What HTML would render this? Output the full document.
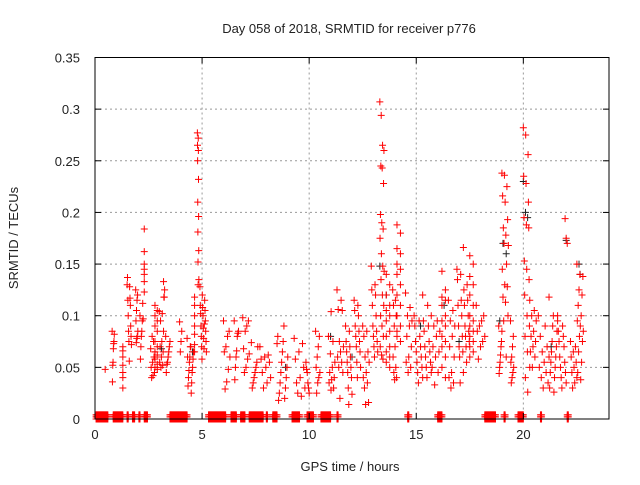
<!DOCTYPE html>
<html><head><meta charset="utf-8">
<style>
html,body{margin:0;padding:0;background:#fff;}
svg text{font-family:"Liberation Sans",sans-serif;font-size:13px;fill:#222;}
</style></head>
<body>
<svg id="chart" width="640" height="480" viewBox="0 0 640 480" xmlns="http://www.w3.org/2000/svg">
<rect width="640" height="480" fill="#fff"/>
<text x="349" y="33" text-anchor="middle">Day 058 of 2018, SRMTID for receiver p776</text>
<text transform="translate(18,238) rotate(-90)" text-anchor="middle">SRMTID / TECUs</text>
<text x="350" y="471" text-anchor="middle">GPS time / hours</text>
<g id="grid"></g>
<g id="marks"></g>
<rect x="95" y="57.5" width="514" height="361.5" fill="none" stroke="#000" stroke-width="1"/>
<g id="ticks"></g>
</svg>
<script>
const xTicks=[0,5,10,15,20];
const xTickLabels=["0","5","10","15","20"];
const yTicks=[0,0.05,0.1,0.15,0.2,0.25,0.3,0.35];
const yTickLabels=["0","0.05","0.1","0.15","0.2","0.25","0.3","0.35"];
// red clusters: [startHour, endHour]
const redClusterSpans=[[0.45,0.5],[0.8,0.9],[1.3,1.4],[1.5,1.7],[1.9,2.0],[2.1,2.25],[2.3,2.35],[2.6,2.8],[2.8,3.0],[3.0,3.2],[3.2,3.25],[3.3,3.5],[3.95,4.05],[4.3,4.6],[4.65,4.75],[4.78,4.85],[4.9,5.2],[6.0,6.3],[6.5,6.7],[6.9,7.2],[7.3,7.6],[7.7,8.2],[8.5,9.0],[9.3,9.8],[9.85,10.0],[10.3,10.5],[10.9,11.2],[11.0,11.05],[11.3,11.6],[11.7,12.0],[12.1,12.4],[12.5,12.8],[12.9,13.2],[13.3,13.5],[13.6,13.9],[13.9,14.1],[14.1,14.4],[14.5,14.8],[14.9,15.3],[15.3,15.7],[15.7,16.1],[16.2,16.5],[16.5,16.8],[16.9,17.2],[17.2,17.5],[17.5,17.8],[17.8,18.2],[18.85,19.0],[19.0,19.3],[19.4,19.55],[20.0,20.3],[20.3,20.6],[20.7,21.2],[21.2,21.6],[21.6,22.0],[21.95,22.05],[22.2,22.5],[22.5,22.8]];
const redClusterValues=[
[0.048],
[0.085,0.082,0.075,0.073,0.068,0.055,0.052,0.036],
[0.066,0.060,0.052,0.045,0.040,0.030,0.070],
[0.130,0.128,0.137,0.117,0.115,0.110,0.100,0.090,0.085,0.080,0.075,0.072,0.056],
[0.125,0.120,0.115,0.105,0.095,0.085,0.080,0.078,0.074],
[0.100,0.097,0.112,0.095,0.085,0.080,0.070,0.058],
[0.184,0.162,0.150,0.145,0.140,0.133,0.123],
[0.068,0.060,0.055,0.050,0.045,0.042,0.040,0.065,0.075,0.080],
[0.110,0.105,0.100,0.095,0.090,0.085,0.075,0.070,0.065,0.062,0.058,0.053,0.050,0.048],
[0.104,0.102,0.095,0.085,0.075,0.070,0.065,0.060,0.055,0.052,0.050],
[0.133,0.125,0.118,0.118],
[0.080,0.075,0.070,0.065,0.060,0.055,0.053,0.045],
[0.094,0.085,0.075,0.065],
[0.078,0.070,0.065,0.060,0.058,0.055,0.050,0.047,0.045,0.040,0.035,0.032,0.025,0.060,0.070],
[0.118,0.110,0.100,0.090,0.082,0.072,0.065],
[0.277,0.272,0.265,0.260,0.250,0.232,0.210,0.196,0.181,0.163,0.152,0.135,0.130],
[0.128,0.120,0.115,0.110,0.108,0.105,0.102,0.100,0.095,0.090,0.088,0.085,0.080,0.078,0.075,0.070,0.068,0.065,0.058,0.092],
[0.095,0.085,0.080,0.070,0.065,0.060,0.048,0.036,0.029],
[0.095,0.085,0.083,0.080,0.066,0.060,0.050,0.038],
[0.098,0.095,0.090,0.085,0.068,0.063,0.058,0.050,0.045],
[0.074,0.070,0.055,0.050,0.045,0.040,0.035,0.030],
[0.070,0.062,0.060,0.058,0.055,0.050,0.045,0.040,0.035,0.030],
[0.073,0.065,0.060,0.055,0.050,0.045,0.040,0.035,0.030,0.025,0.020,0.018,0.090,0.080,0.075],
[0.078,0.073,0.065,0.058,0.050,0.040,0.035,0.030,0.022,0.025],
[0.055,0.048,0.045,0.035,0.030,0.025],
[0.085,0.080,0.070,0.060,0.050,0.045,0.040,0.035,0.025],
[0.080,0.075,0.063,0.055,0.050,0.045,0.040,0.038,0.035,0.030,0.028],
[0.104],
[0.125,0.115,0.106,0.105,0.075,0.070,0.065,0.060,0.055,0.050,0.045,0.020],
[0.090,0.085,0.075,0.070,0.065,0.060,0.055,0.050,0.045,0.040,0.030,0.024,0.014],
[0.115,0.110,0.105,0.100,0.090,0.085,0.080,0.075,0.070,0.065,0.055,0.050,0.040],
[0.090,0.085,0.080,0.065,0.060,0.055,0.045,0.040,0.035,0.030,0.016,0.014],
[0.148,0.130,0.125,0.120,0.110,0.100,0.090,0.085,0.080,0.075,0.070,0.065,0.060],
[0.307,0.294,0.265,0.260,0.245,0.243,0.228,0.198,0.190,0.184,0.175,0.160,0.148,0.143,0.135,0.120,0.110,0.100,0.090,0.080,0.070,0.062,0.058],
[0.140,0.130,0.120,0.110,0.105,0.100,0.095,0.085,0.080,0.070,0.065,0.060,0.055,0.050],
[0.125,0.115,0.110,0.100,0.090,0.080,0.070,0.060,0.050,0.045,0.040,0.038],
[0.188,0.180,0.165,0.160,0.150,0.145,0.140,0.130,0.120,0.110,0.100,0.090,0.085,0.075],
[0.122,0.108,0.100,0.095,0.090,0.080,0.070,0.060,0.055,0.050,0.045],
[0.100,0.095,0.090,0.080,0.075,0.070,0.065,0.060,0.055,0.050,0.045,0.040,0.035],
[0.120,0.110,0.095,0.090,0.085,0.075,0.070,0.065,0.060,0.055,0.050,0.045,0.040],
[0.100,0.095,0.090,0.085,0.080,0.070,0.065,0.060,0.050,0.045,0.033],
[0.143,0.125,0.118,0.115,0.110,0.100,0.095,0.090,0.080,0.075,0.070,0.060,0.050,0.040],
[0.115,0.105,0.095,0.090,0.080,0.070,0.060,0.045,0.040,0.035,0.030],
[0.145,0.140,0.135,0.115,0.110,0.100,0.090,0.080,0.070,0.065,0.060,0.045,0.035],
[0.166,0.130,0.125,0.115,0.110,0.100,0.090,0.085,0.080,0.075,0.070,0.060,0.055],
[0.158,0.150,0.138,0.130,0.120,0.110,0.100,0.095,0.090,0.085,0.080,0.075,0.070,0.065],
[0.110,0.100,0.095,0.090,0.085,0.080,0.075,0.070,0.058],
[0.090,0.085,0.075,0.070,0.062,0.055,0.050,0.044],
[0.238,0.236,0.225,0.216,0.210,0.193,0.185,0.178,0.168,0.170,0.150,0.145,0.130,0.128,0.118,0.113,0.100,0.095,0.060],
[0.095,0.080,0.070,0.060,0.055,0.050,0.045,0.040,0.035],
[0.282,0.275,0.256,0.235,0.228,0.210,0.195,0.188,0.185,0.153,0.145,0.135,0.120,0.100,0.090,0.080,0.065,0.050,0.040,0.026],
[0.115,0.105,0.100,0.095,0.085,0.080,0.075,0.070,0.065,0.060,0.050],
[0.100,0.090,0.080,0.070,0.065,0.060,0.055,0.050,0.045,0.040,0.035,0.030],
[0.118,0.100,0.095,0.090,0.085,0.075,0.070,0.065,0.060,0.055,0.050,0.045,0.040,0.030,0.026],
[0.100,0.090,0.085,0.080,0.075,0.070,0.060,0.055,0.050,0.045,0.040,0.035,0.030],
[0.194,0.175,0.170],
[0.075,0.070,0.065,0.060,0.055,0.050,0.045,0.040,0.035,0.030],
[0.150,0.140,0.138,0.125,0.120,0.110,0.100,0.095,0.090,0.085,0.080,0.075,0.065,0.055,0.045,0.038]
];
const blackTimes=[4.55,11.0,12.0,13.3,13.6,15.2,16.3,17.0,18.9,19.05,19.2,20.0,20.1,20.2,21.3,22.0,22.6,22.65,3.1,8.9];
const blackValues=[0.065,0.080,0.060,0.148,0.120,0.090,0.110,0.075,0.095,0.170,0.160,0.230,0.200,0.195,0.070,0.173,0.150,0.140,0.068,0.050];
const zeroSpans=[[0.05,0.6],[0.85,1.3],[1.5,1.55],[1.75,1.85],[2.05,2.1],[2.3,2.45],[3.5,4.3],[5.3,6.1],[6.35,6.6],[6.8,7.0],[7.2,7.85],[8.0,8.05],[8.3,8.5],[9.2,9.55],[9.9,10.2],[10.55,11.0],[11.3,11.35],[14.6,14.65],[16.0,16.2],[18.2,18.7],[19.1,19.15],[19.75,20.0],[20.8,20.85],[22.05,22.1]];

const X0=95,X1=609,Y0=419,Y1=57.5;
const xs=t=>X0+(X1-X0)*t/24;
const ys=v=>Y0-(Y0-Y1)*v/0.35;
const NS="http://www.w3.org/2000/svg";
const grid=document.getElementById('grid'),marks=document.getElementById('marks'),ticks=document.getElementById('ticks');
function mk(tag,parent,attrs){const e=document.createElementNS(NS,tag);for(const k in attrs)e.setAttribute(k,attrs[k]);parent.appendChild(e);return e;}
xTicks.forEach((t,i)=>{
  const x=xs(t);
  if(t>0){const g=mk('line',grid,{x1:x,x2:x,y1:Y1,y2:Y0,stroke:'#999','stroke-dasharray':'2,3'});
  
  }
  mk('line',ticks,{x1:x,x2:x,y1:Y0,y2:Y0-6,stroke:'#000'});
  mk('line',ticks,{x1:x,x2:x,y1:Y1,y2:Y1+6,stroke:'#000'});
  const tx=mk('text',ticks,{x:x,y:Y0+20,'text-anchor':'middle'});tx.textContent=xTickLabels[i];
  
  
});
yTicks.forEach((v,i)=>{
  const y=ys(v);
  if(v>0&&v<0.35){const g=mk('line',grid,{x1:X0,x2:X1,y1:y,y2:y,stroke:'#999','stroke-dasharray':'2,3'});
  
  }
  mk('line',ticks,{x1:X0,x2:X0+6,y1:y,y2:y,stroke:'#000'});
  mk('line',ticks,{x1:X1,x2:X1-6,y1:y,y2:y,stroke:'#000'});
  const tx=mk('text',ticks,{x:X0-15,y:y+5,'text-anchor':'end'});tx.textContent=yTickLabels[i];
  
  
});
function plus(t,v,color,name){
  const x=xs(t),y=ys(v);
  const p=mk('path',marks,{d:`M${x-3.5},${y}h7M${x},${y-3.5}v7`,stroke:color,'stroke-width':1,fill:'none'});
  
  
}
blackTimes.forEach((t,i)=>plus(t,blackValues[i],'#222','black-point'));
redClusterSpans.forEach((s,ci)=>{
  const vals=redClusterValues[ci],n=vals.length;
  vals.forEach((v,i)=>{
    const slot=n>1?((i*7)%n)/(n-1):0.5;
    plus(s[0]+(s[1]-s[0])*slot,v,'#f00','red-point');
  });
});
zeroSpans.forEach(s=>{
  for(let t=s[0];t<=s[1]+1e-9;t+=0.025){
    plus(t,0,'#f00','zero-point');
    plus(t,0.002,'#f00','zero-point');
    plus(t,0.004,'#f00','zero-point');
  }
});
</script>
</body></html>
